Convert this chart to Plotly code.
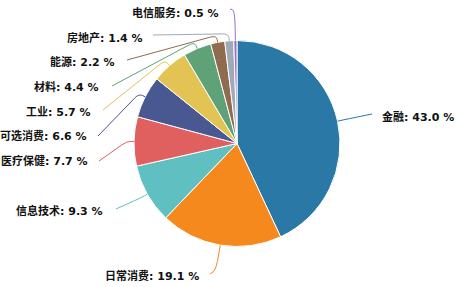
import math
import plotly.graph_objects as go

sectors = ["金融", "日常消费", "信息技术", "医疗保健", "可选消费", "工业", "材料", "能源", "房地产", "电信服务"]
percents = [43.0, 19.1, 9.3, 7.7, 6.6, 5.7, 4.4, 2.2, 1.4, 0.5]
colors = ["#2a78a6", "#f5891e", "#5fbfc1", "#e06060", "#4a5891", "#e3c354",
          "#5fa277", "#8f6b50", "#a0aab6", "#9b6ec4"]

W, H = 456, 287
CX, CY, R = 237.0, 143.5, 103.0

# label layout: (label x, label y, anchor, line end x, line end y, radial extension)
label_layout = [
    (380, 117, "left", 372, 114, 6),
    (201, 276, "right", 210, 274, 25),
    (105, 211, "right", 116, 209, 8),
    (90, 161, "right", 99, 161, 7),
    (89, 136, "right", 98, 136, 7),
    (93, 112, "right", 103, 110, 7),
    (101, 87, "right", 112, 86, 7),
    (117, 62, "right", 127, 60, 7),
    (145, 38, "right", 153, 35, 7),
    (221, 13, "right", 230, 9, 30),
]


def px(x):
    return x / W


def py(y):
    return 1 - y / H


def unit(dx, dy):
    n = math.hypot(dx, dy) or 1.0
    return dx / n, dy / n


fig = go.Figure()
fig.add_trace(go.Pie(
    labels=sectors,
    values=percents,
    sort=False,
    direction="clockwise",
    rotation=0,
    textinfo="none",
    marker=dict(colors=colors, line=dict(color="white", width=1)),
    domain=dict(x=[px(CX - R), px(CX + R)], y=[py(CY + R), py(CY - R)]),
    showlegend=False,
))

shapes = []
annotations = []
cum = 0.0
total = sum(percents)
for name, val, col, lay in zip(sectors, percents, colors, label_layout):
    mid = (cum + val / 2) / total * 2 * math.pi
    cum += val
    lx, ly, anc, ex, ey, ext = lay
    x0 = CX + R * math.sin(mid)
    y0 = CY - R * math.cos(mid)
    cx = CX + (R + ext) * math.sin(mid)
    cy = CY - (R + ext) * math.cos(mid)
    ax = x0 + (cx - x0) * 0.4
    ay = y0 + (cy - y0) * 0.4
    ux, uy = unit(ex - cx, ey - cy)
    seg = min(6.0, 0.5 * math.hypot(ex - cx, ey - cy))
    bx, by = cx + ux * seg, cy + uy * seg
    path = (f"M {px(x0)},{py(y0)} L {px(ax)},{py(ay)} "
            f"Q {px(cx)},{py(cy)} {px(bx)},{py(by)} L {px(ex)},{py(ey)}")
    shapes.append(dict(type="path", path=path, xref="paper", yref="paper",
                       line=dict(color=col, width=1)))
    annotations.append(dict(
        x=px(lx), y=py(ly), xref="paper", yref="paper",
        text=f"<b>{name}: {val:.1f} %</b>", showarrow=False,
        xanchor=anc, yanchor="middle",
        font=dict(family="DejaVu Sans, Noto Sans CJK SC", size=11, color="#111111"),
    ))

fig.update_layout(
    width=W, height=H,
    margin=dict(l=0, r=0, t=0, b=0),
    paper_bgcolor="white",
    plot_bgcolor="white",
    shapes=shapes,
    annotations=annotations,
)

fig.write_html("out.html")
